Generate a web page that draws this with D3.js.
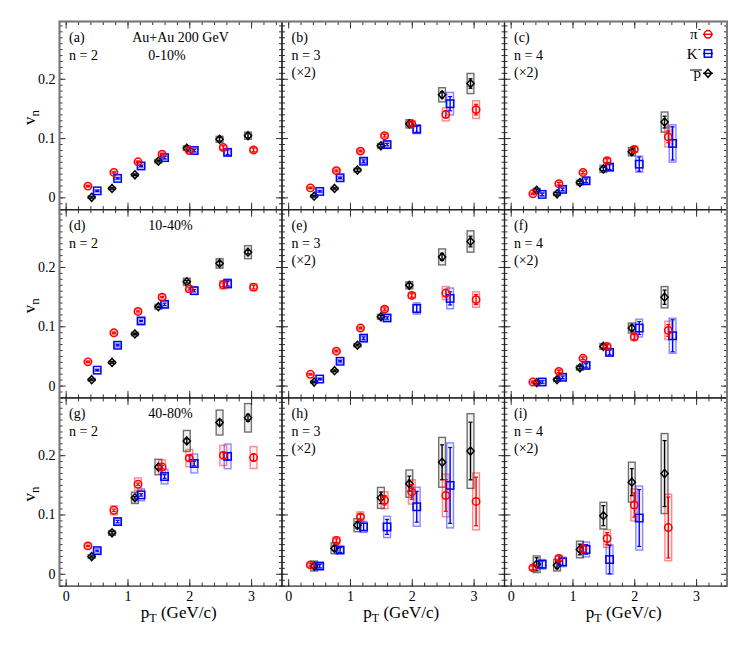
<!DOCTYPE html>
<html><head><meta charset="utf-8">
<script src="https://cdn.jsdelivr.net/npm/d3@7"></script>
<style>body{margin:0;background:#fff}svg{display:block}svg text{font-family:"Liberation Serif","Times New Roman",Times,serif !important}</style>
</head><body>
<svg id="chart" width="747" height="654" font-family="Liberation Serif"></svg>
<script>
// ---------------- DATA ----------------
const ptPi = [0.36, 0.78, 1.17, 1.56, 2.00, 2.55, 3.04];
const ptK  = [0.51, 0.84, 1.22, 1.60, 2.08, 2.62];
const ptP  = [0.42, 0.75, 1.12, 1.50, 1.96, 2.49, 2.95];

const panelLetters = ["a","b","c","d","e","f","g","h","i"];
const harmonics = [2, 3, 4];
const centralities = ["0-10%", "10-40%", "40-80%"];
const yTicks = [0, 0.1, 0.2];
const xTicks = [0, 1, 2, 3];

// (a) n=2, 0-10%
const a_pi = [0.019, 0.042, 0.060, 0.073, 0.079, 0.084, 0.080];
const a_pi_stat = [0.001, 0.001, 0.001, 0.001, 0.002, 0.003, 0.003];
const a_pi_sys = [0.002, 0.002, 0.002, 0.003, 0.003, 0.004, 0.004];
const a_k = [0.011, 0.032, 0.053, 0.067, 0.079, 0.076];
const a_k_stat = [0.001, 0.001, 0.001, 0.002, 0.002, 0.004];
const a_k_sys = [0.002, 0.002, 0.003, 0.003, 0.004, 0.006];
const a_p = [0.000, 0.015, 0.038, 0.061, 0.083, 0.098, 0.104];
const a_p_stat = [0.001, 0.001, 0.001, 0.001, 0.002, 0.003, 0.004];
const a_p_sys = [0.002, 0.002, 0.002, 0.003, 0.004, 0.005, 0.006];

// (b) n=3 (x2), 0-10%
const b_pi = [0.016, 0.045, 0.078, 0.104, 0.124, 0.140, 0.148];
const b_pi_stat = [0.001, 0.001, 0.001, 0.002, 0.003, 0.006, 0.009];
const b_pi_sys = [0.002, 0.003, 0.003, 0.004, 0.005, 0.011, 0.015];
const b_k = [0.010, 0.033, 0.061, 0.089, 0.115, 0.158];
const b_k_stat = [0.001, 0.001, 0.002, 0.002, 0.005, 0.012];
const b_k_sys = [0.002, 0.003, 0.004, 0.005, 0.0075, 0.019];
const b_p = [0.002, 0.015, 0.046, 0.087, 0.124, 0.173, 0.192];
const b_p_stat = [0.001, 0.001, 0.002, 0.002, 0.004, 0.005, 0.008];
const b_p_sys = [0.002, 0.002, 0.003, 0.004, 0.007, 0.012, 0.017];

// (c) n=4 (x2), 0-10%
const c_pi = [0.006, 0.023, 0.042, 0.062, 0.081, 0.102];
const c_pi_stat = [0.001, 0.002, 0.002, 0.003, 0.004, 0.010];
const c_pi_sys = [0.002, 0.003, 0.003, 0.004, 0.005, 0.017];
const c_k = [0.005, 0.0135, 0.028, 0.051, 0.056, 0.091];
const c_k_stat = [0.002, 0.002, 0.003, 0.004, 0.012, 0.028];
const c_k_sys = [0.003, 0.004, 0.005, 0.006, 0.0135, 0.0315];
const c_p = [0.012, 0.006, 0.025, 0.048, 0.077, 0.127];
const c_p_stat = [0.002, 0.002, 0.002, 0.003, 0.005, 0.010];
const c_p_sys = [0.003, 0.003, 0.004, 0.006, 0.007, 0.017];

// (d) n=2, 10-40%
const d_pi = [0.040, 0.089, 0.125, 0.149, 0.163, 0.170, 0.166];
const d_pi_stat = [0.001, 0.001, 0.001, 0.001, 0.002, 0.003, 0.003];
const d_pi_sys = [0.002, 0.003, 0.004, 0.004, 0.005, 0.007, 0.006];
const d_k = [0.026, 0.068, 0.109, 0.137, 0.160, 0.172];
const d_k_stat = [0.001, 0.001, 0.001, 0.002, 0.002, 0.004];
const d_k_sys = [0.002, 0.003, 0.004, 0.005, 0.006, 0.008];
const d_p = [0.010, 0.039, 0.087, 0.133, 0.175, 0.206, 0.225];
const d_p_stat = [0.001, 0.001, 0.001, 0.001, 0.002, 0.003, 0.003];
const d_p_sys = [0.002, 0.002, 0.003, 0.004, 0.006, 0.008, 0.011];

// (e) n=3 (x2), 10-40%
const e_pi = [0.019, 0.058, 0.097, 0.129, 0.152, 0.156, 0.145];
const e_pi_stat = [0.001, 0.001, 0.001, 0.002, 0.003, 0.006, 0.0085];
const e_pi_sys = [0.002, 0.003, 0.003, 0.004, 0.005, 0.011, 0.013];
const e_k = [0.011, 0.041, 0.080, 0.114, 0.130, 0.147];
const e_k_stat = [0.001, 0.001, 0.002, 0.002, 0.007, 0.011];
const e_k_sys = [0.002, 0.003, 0.004, 0.005, 0.0095, 0.0175];
const e_p = [0.006, 0.025, 0.068, 0.116, 0.169, 0.217, 0.243];
const e_p_stat = [0.001, 0.001, 0.001, 0.002, 0.003, 0.006, 0.009];
const e_p_sys = [0.002, 0.002, 0.003, 0.004, 0.006, 0.0135, 0.018];

// (f) n=4 (x2), 10-40%
const f_pi = [0.006, 0.024, 0.046, 0.066, 0.082, 0.093];
const f_pi_stat = [0.001, 0.002, 0.002, 0.003, 0.004, 0.010];
const f_pi_sys = [0.002, 0.003, 0.003, 0.004, 0.006, 0.0155];
const f_k = [0.006, 0.014, 0.034, 0.056, 0.097, 0.084];
const f_k_stat = [0.002, 0.002, 0.003, 0.004, 0.011, 0.027];
const f_k_sys = [0.003, 0.004, 0.005, 0.006, 0.015, 0.0295];
const f_p = [0.005, 0.010, 0.030, 0.066, 0.097, 0.149];
const f_p_stat = [0.002, 0.002, 0.002, 0.003, 0.005, 0.012];
const f_p_sys = [0.003, 0.003, 0.004, 0.005, 0.0085, 0.018];

// (g) n=2, 40-80%
const g_pi = [0.047, 0.107, 0.151, 0.180, 0.195, 0.1995, 0.196];
const g_pi_stat = [0.001, 0.002, 0.002, 0.003, 0.004, 0.005, 0.006];
const g_pi_sys = [0.004, 0.0076, 0.0107, 0.012, 0.0146, 0.017, 0.0185];
const g_k = [0.039, 0.088, 0.133, 0.164, 0.186, 0.198];
const g_k_stat = [0.001, 0.002, 0.002, 0.003, 0.004, 0.006];
const g_k_sys = [0.004, 0.005, 0.010, 0.0124, 0.016, 0.0208];
const g_p = [0.029, 0.069, 0.128, 0.180, 0.224, 0.255, 0.263];
const g_p_stat = [0.001, 0.002, 0.002, 0.003, 0.004, 0.005, 0.006];
const g_p_sys = [0.003, 0.004, 0.0095, 0.013, 0.0177, 0.021, 0.024];

// (h) n=3 (x2), 40-80%
const h_pi = [0.015, 0.056, 0.096, 0.124, 0.138, 0.132, 0.122];
const h_pi_stat = [0.002, 0.003, 0.004, 0.008, 0.0126, 0.0267, 0.041];
const h_pi_sys = [0.004, 0.006, 0.0084, 0.0143, 0.0205, 0.036, 0.048];
const h_k = [0.013, 0.040, 0.079, 0.079, 0.113, 0.149];
const h_k_stat = [0.003, 0.004, 0.006, 0.0126, 0.026, 0.064];
const h_k_sys = [0.004, 0.005, 0.0093, 0.018, 0.033, 0.0717];
const h_p = [0.013, 0.043, 0.082, 0.128, 0.152, 0.188, 0.207];
const h_p_stat = [0.003, 0.004, 0.006, 0.0098, 0.0126, 0.0295, 0.0486];
const h_p_sys = [0.0084, 0.0093, 0.011, 0.0177, 0.023, 0.042, 0.063];

// (i) n=4 (x2), 40-80%
const i_pi = [0.010, 0.026, 0.042, 0.0595, 0.116, 0.078];
const i_pi_stat = [0.003, 0.004, 0.006, 0.010, 0.0205, 0.0514];
const i_pi_sys = [0.004, 0.005, 0.007, 0.015, 0.027, 0.056];
const i_k = [0.016, 0.020, 0.041, 0.024, 0.094];
const i_k_stat = [0.006, 0.006, 0.008, 0.024, 0.048];
const i_k_sys = [0.008, 0.008, 0.0126, 0.0247, 0.054];
const i_p = [0.016, 0.0145, 0.041, 0.098, 0.1545, 0.169];
const i_p_stat = [0.011, 0.006, 0.009, 0.0169, 0.0228, 0.0556];
const i_p_sys = [0.014, 0.0098, 0.014, 0.0225, 0.0337, 0.0675];

const panels = [
  {pi:[a_pi,a_pi_stat,a_pi_sys], k:[a_k,a_k_stat,a_k_sys], p:[a_p,a_p_stat,a_p_sys]},
  {pi:[b_pi,b_pi_stat,b_pi_sys], k:[b_k,b_k_stat,b_k_sys], p:[b_p,b_p_stat,b_p_sys]},
  {pi:[c_pi,c_pi_stat,c_pi_sys], k:[c_k,c_k_stat,c_k_sys], p:[c_p,c_p_stat,c_p_sys]},
  {pi:[d_pi,d_pi_stat,d_pi_sys], k:[d_k,d_k_stat,d_k_sys], p:[d_p,d_p_stat,d_p_sys]},
  {pi:[e_pi,e_pi_stat,e_pi_sys], k:[e_k,e_k_stat,e_k_sys], p:[e_p,e_p_stat,e_p_sys]},
  {pi:[f_pi,f_pi_stat,f_pi_sys], k:[f_k,f_k_stat,f_k_sys], p:[f_p,f_p_stat,f_p_sys]},
  {pi:[g_pi,g_pi_stat,g_pi_sys], k:[g_k,g_k_stat,g_k_sys], p:[g_p,g_p_stat,g_p_sys]},
  {pi:[h_pi,h_pi_stat,h_pi_sys], k:[h_k,h_k_stat,h_k_sys], p:[h_p,h_p_stat,h_p_sys]},
  {pi:[i_pi,i_pi_stat,i_pi_sys], k:[i_k,i_k_stat,i_k_sys], p:[i_p,i_p_stat,i_p_sys]}
];

// ---------------- LAYOUT ----------------
const FONT = "Liberation Serif, Times New Roman, serif";
const L = 59.5, T = 21.5, CW = 222.5, RH = 188.2;
const BOXW = 0.055;
const svg = d3.select("#chart");

const species = [
  {key:"p",  pt:ptP,  color:"#000000", box:"rgba(0,0,0,0.55)",   fill:"rgba(0,0,0,0.06)",   shape:"diamond"},
  {key:"k",  pt:ptK,  color:"#0000ff", box:"rgba(0,0,255,0.45)", fill:"rgba(0,0,255,0.05)", shape:"square"},
  {key:"pi", pt:ptPi, color:"#ff0000", box:"rgba(255,0,0,0.45)", fill:"rgba(255,0,0,0.05)", shape:"circle"}
];

function drawMarker(g, shape, cx, cy, color) {
  if (shape === "circle") {
    g.append("circle").attr("cx", cx).attr("cy", cy).attr("r", 3.7)
      .attr("fill", "none").attr("stroke", color).attr("stroke-width", 1.5);
  } else if (shape === "square") {
    g.append("rect").attr("x", cx - 3.7).attr("y", cy - 3.7).attr("width", 7.4).attr("height", 7.4)
      .attr("fill", "none").attr("stroke", color).attr("stroke-width", 1.5);
  } else {
    g.append("path").attr("d", `M${cx},${cy-4}L${cx+3.6},${cy}L${cx},${cy+4}L${cx-3.6},${cy}Z`)
      .attr("fill", "none").attr("stroke", color).attr("stroke-width", 1.5);
  }
}

function txt(g) {
  return g.append("text").attr("font-family", FONT).attr("fill", "#000");
}

panels.forEach((pd, idx) => {
  const r = Math.floor(idx / 3), c = idx % 3;
  const x0 = L + c * CW, x1 = x0 + CW, y0 = T + r * RH, y1 = y0 + RH;
  const x = d3.scaleLinear().domain([-0.1, 3.5]).range([x0, x1]);
  const y = d3.scaleLinear().domain([-0.0208, 0.2966]).range([y1, y0]);
  const g = svg.append("g");

  const minorY = d3.range(-2, 30).map(v => v / 100);
  const minorX = d3.range(0, 18).map(v => v / 5);

  const axStyle = sel => { sel.attr("font-family", FONT); sel.select(".domain").remove(); sel.selectAll("line").attr("stroke", "#333"); };
  g.append("g").attr("transform", `translate(${x0},0)`).call(d3.axisLeft(y).tickValues(minorY).tickSize(-3).tickFormat("")).call(axStyle);
  g.append("g").attr("transform", `translate(${x1},0)`).call(d3.axisRight(y).tickValues(minorY).tickSize(-3).tickFormat("")).call(axStyle);
  const yMaj = g.append("g").attr("transform", `translate(${x0},0)`)
    .call(d3.axisLeft(y).tickValues(yTicks).tickSize(-6).tickPadding(4).tickFormat(c === 0 ? d3.format("") : ""))
    .call(axStyle);
  yMaj.selectAll("text").attr("font-size", 14).attr("fill", "#000").attr("font-family", FONT);
  g.append("g").attr("transform", `translate(${x1},0)`).call(d3.axisRight(y).tickValues(yTicks).tickSize(-6).tickFormat("")).call(axStyle);
  g.append("g").attr("transform", `translate(0,${y1})`).call(d3.axisBottom(x).tickValues(minorX).tickSize(-3.5).tickFormat("")).call(axStyle);
  g.append("g").attr("transform", `translate(0,${y0})`).call(d3.axisTop(x).tickValues(minorX).tickSize(-3.5).tickFormat("")).call(axStyle);
  const xMaj = g.append("g").attr("transform", `translate(0,${y1})`)
    .call(d3.axisBottom(x).tickValues(xTicks).tickSize(-7).tickPadding(5).tickFormat(r === 2 ? d3.format("") : ""))
    .call(axStyle);
  xMaj.selectAll("text").attr("font-size", 14).attr("fill", "#000").attr("font-family", FONT);
  g.append("g").attr("transform", `translate(0,${y0})`).call(d3.axisTop(x).tickValues(xTicks).tickSize(-7).tickFormat("")).call(axStyle);

  g.append("rect").attr("x", x0).attr("y", y0).attr("width", CW).attr("height", RH)
    .attr("fill", "none").attr("stroke", "#222").attr("stroke-width", 1.2);

  const dg = g.append("g");
  species.forEach(sp => {
    const [vals, stat, sys] = pd[sp.key];
    vals.forEach((v, i) => {
      const pt = sp.pt[i];
      dg.append("rect")
        .attr("x", x(pt - BOXW)).attr("width", x(pt + BOXW) - x(pt - BOXW))
        .attr("y", y(v + sys[i])).attr("height", y(v - sys[i]) - y(v + sys[i]))
        .attr("fill", sp.fill).attr("stroke", sp.box).attr("stroke-width", 1.4);
    });
  });
  species.forEach(sp => {
    const [vals, stat, sys] = pd[sp.key];
    vals.forEach((v, i) => {
      const cx = x(sp.pt[i]);
      const yt = y(v + stat[i]), yb = y(v - stat[i]);
      dg.append("line").attr("x1", cx).attr("x2", cx).attr("y1", yt).attr("y2", yb).attr("stroke", sp.color).attr("stroke-width", 1.4);
      dg.append("line").attr("x1", cx - 2).attr("x2", cx + 2).attr("y1", yt).attr("y2", yt).attr("stroke", sp.color).attr("stroke-width", 1.2);
      dg.append("line").attr("x1", cx - 2).attr("x2", cx + 2).attr("y1", yb).attr("y2", yb).attr("stroke", sp.color).attr("stroke-width", 1.2);
      drawMarker(dg, sp.shape, cx, y(v), sp.color);
    });
  });

  const tx = x0 + 9.5;
  txt(g).attr("x", tx).attr("y", y0 + 20.5).attr("font-size", 14).text(`(${panelLetters[idx]})`);
  txt(g).attr("x", tx).attr("y", y0 + 38).attr("font-size", 14).text(`n = ${harmonics[c]}`);
  if (c > 0) txt(g).attr("x", tx).attr("y", y0 + 55.5).attr("font-size", 14).text("(×2)");
  if (c === 0) {
    if (r === 0) {
      txt(g).attr("x", x0 + 121).attr("y", y0 + 20.5).attr("font-size", 14).attr("text-anchor", "middle").text("Au+Au 200 GeV");
      txt(g).attr("x", x0 + 107.5).attr("y", y0 + 38).attr("font-size", 14).attr("text-anchor", "middle").text(centralities[r]);
    } else {
      txt(g).attr("x", x0 + 111).attr("y", y0 + 20.5).attr("font-size", 14).attr("text-anchor", "middle").text(centralities[r]);
    }
    const yt = txt(g).attr("transform", `translate(35,${y0 + RH / 2 + 2}) rotate(-90)`)
      .attr("font-size", 17).attr("text-anchor", "middle");
    yt.append("tspan").text("v");
    yt.append("tspan").attr("font-size", 13).attr("dy", 4).text("n");
  }
  if (r === 2) {
    const xt = txt(g).attr("x", x0 + CW / 2 + 8).attr("y", y1 + 31.5).attr("font-size", 17).attr("text-anchor", "middle");
    xt.append("tspan").text("p");
    xt.append("tspan").attr("font-size", 12).attr("dy", 4).text("T");
    xt.append("tspan").attr("dy", -4).text(" (GeV/c)");
  }
});

svg.append("path")
  .attr("d", `M${L},${T + 3 * RH}V${T}H${L + 3 * CW}V${T + 3 * RH}`)
  .attr("fill", "none").attr("stroke", "#7a7a7a").attr("stroke-width", 2);

const legendNames = [["π", "-"], ["K", "-"], ["p", ""]];
const legendY = [34.3, 53.5, 73.3];
const legendSpecies = [species[2], species[1], species[0]];
legendSpecies.forEach((sp, i) => {
  const lx = 708, ly = legendY[i];
  svg.append("line").attr("x1", lx - 5).attr("x2", lx + 5).attr("y1", ly).attr("y2", ly).attr("stroke", sp.color).attr("stroke-width", 1.4);
  drawMarker(svg, sp.shape, lx, ly, sp.color);
  const t = txt(svg).attr("x", 701).attr("y", ly + 5).attr("font-size", 15).attr("text-anchor", "end");
  t.append("tspan").text(legendNames[i][0]);
  if (legendNames[i][1]) t.append("tspan").attr("font-size", 10).attr("dy", -7).text(legendNames[i][1]);
});
svg.append("line").attr("x1", 690).attr("x2", 702).attr("y1", 70).attr("y2", 70).attr("stroke", "#000").attr("stroke-width", 1);
</script>
</body></html>
